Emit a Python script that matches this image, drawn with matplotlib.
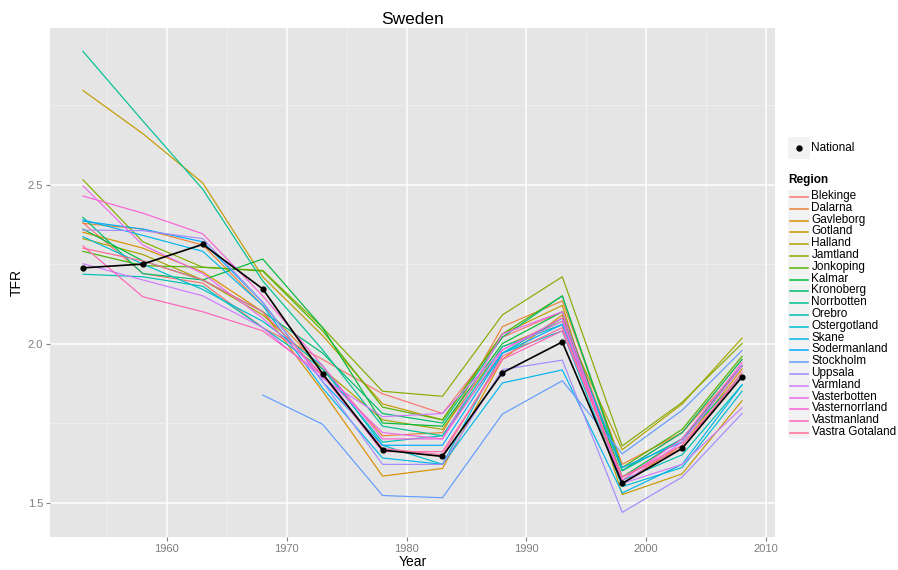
import numpy as np
import matplotlib
matplotlib.use("Agg")
import matplotlib.pyplot as plt
from matplotlib.lines import Line2D
from matplotlib.patches import Rectangle

plt.rcParams['font.family'] = ['Liberation Sans', 'DejaVu Sans']

years = [1953, 1958, 1963, 1968, 1973, 1978, 1983, 1988, 1993, 1998, 2003, 2008]
national = [2.238, 2.250, 2.312, 2.172, 1.905, 1.665, 1.645, 1.908, 2.005, 1.560, 1.670, 1.895]

regions = ["Blekinge", "Dalarna", "Gavleborg", "Gotland", "Halland", "Jamtland",
           "Jonkoping", "Kalmar", "Kronoberg", "Norrbotten", "Orebro", "Ostergotland",
           "Skane", "Sodermanland", "Stockholm", "Uppsala", "Varmland", "Vasterbotten",
           "Vasternorrland", "Vastmanland", "Vastra Gotaland"]

nan = float('nan')
blekinge = [2.380, 2.220, 2.190, 2.050, 1.950, 1.842, 1.780, 2.020, 2.100, 1.600, 1.720, 1.930]
dalarna = [2.378, 2.360, 2.310, 2.120, 1.920, 1.710, 1.720, 2.053, 2.134, 1.620, 1.720, 1.950]
gavleborg = [2.350, 2.300, 2.225, 2.100, 1.850, 1.583, 1.607, 1.950, 2.090, 1.560, 1.680, 1.920]
gotland = [2.796, 2.660, 2.505, 2.210, 2.025, 1.810, 1.760, 2.030, 2.120, 1.525, 1.590, 1.820]
halland = [2.330, 2.280, 2.200, 2.090, 1.920, 1.760, 1.730, 1.990, 2.070, 1.666, 1.810, 2.017]
jamtland = [2.515, 2.320, 2.240, 2.230, 2.050, 1.850, 1.834, 2.090, 2.210, 1.678, 1.815, 2.000]
jonkoping = [2.290, 2.245, 2.240, 2.228, 2.040, 1.800, 1.760, 2.030, 2.150, 1.610, 1.730, 1.960]
kalmar = [2.360, 2.260, 2.200, 2.266, 2.050, 1.750, 1.740, 2.000, 2.100, 1.580, 1.700, 1.930]
kronoberg = [2.397, 2.220, 2.200, 2.100, 1.970, 1.780, 1.750, 2.020, 2.150, 1.600, 1.720, 1.950]
norrbotten = [2.919, 2.700, 2.485, 2.197, 1.980, 1.740, 1.710, 1.970, 2.080, 1.600, 1.700, 1.900]
orebro = [2.218, 2.210, 2.180, 2.050, 1.920, 1.690, 1.710, 1.990, 2.060, 1.570, 1.650, 1.870]
ostergotland = [2.336, 2.250, 2.170, 2.070, 1.930, 1.680, 1.620, 1.970, 2.040, 1.550, 1.610, 1.850]
skane = [2.389, 2.340, 2.290, 2.120, 1.860, 1.640, 1.620, 1.876, 1.917, 1.530, 1.620, 1.870]
sodermanland = [2.385, 2.360, 2.320, 2.130, 1.880, 1.680, 1.680, 1.970, 2.060, 1.610, 1.690, 1.930]
stockholm = [nan, nan, nan, 1.838, 1.746, 1.522, 1.515, 1.778, 1.883, 1.653, 1.790, 1.978]
uppsala = [2.357, 2.355, 2.330, 2.130, 1.880, 1.620, 1.620, 1.918, 1.948, 1.469, 1.580, 1.780]
varmland = [2.251, 2.200, 2.150, 2.050, 1.890, 1.770, 1.780, 1.980, 2.070, 1.560, 1.620, 1.798]
vasterbotten = [2.496, 2.310, 2.220, 2.080, 1.900, 1.720, 1.700, 2.030, 2.100, 1.560, 1.690, 1.930]
vasternorrland = [2.464, 2.410, 2.345, 2.150, 1.930, 1.700, 1.700, 1.980, 2.080, 1.570, 1.700, 1.940]
vastmanland = [2.307, 2.147, 2.100, 2.040, 1.900, 1.660, 1.660, 1.950, 2.040, 1.580, 1.680, 1.900]
vastra_gotaland = [2.300, 2.260, 2.200, 2.100, 1.900, 1.670, 1.650, 1.960, 2.050, 1.580, 1.670, 1.910]

series = [blekinge, dalarna, gavleborg, gotland, halland, jamtland, jonkoping, kalmar,
          kronoberg, norrbotten, orebro, ostergotland, skane, sodermanland, stockholm,
          uppsala, varmland, vasterbotten, vasternorrland, vastmanland, vastra_gotaland]


def hcl_hex(h, c=100.0, l=65.0):
    xn, yn, zn = 95.047, 100.0, 108.883
    den = xn + 15 * yn + 3 * zn
    un, vn = 4 * xn / den, 9 * yn / den
    hr = np.deg2rad(h)
    U, V = c * np.cos(hr), c * np.sin(hr)
    L = l
    Y = yn * ((L + 16) / 116) ** 3 if L > 8 else yn * L / 903.3
    u = U / (13 * L) + un
    v = V / (13 * L) + vn
    X = 9.0 * Y * u / (4 * v)
    Z = -X / 3 - 5 * Y + 3 * Y / v
    X, Y, Z = X / 100, Y / 100, Z / 100
    r = 3.240479 * X - 1.537150 * Y - 0.498535 * Z
    g = -0.969256 * X + 1.875992 * Y + 0.041556 * Z
    b = 0.055648 * X - 0.204043 * Y + 1.057311 * Z

    def gam(t):
        t = 1.055 * t ** (1 / 2.4) - 0.055 if t > 0.00304 else 12.92 * t
        return min(max(t, 0.0), 1.0)
    return (gam(r), gam(g), gam(b))


hues = np.linspace(15, 375, len(regions) + 1)[:-1]
colors = [hcl_hex(h) for h in hues]

W, H = 898, 570
fig = plt.figure(figsize=(W / 100, H / 100), dpi=100)
fig.patch.set_facecolor('white')
left, right, top, bottom = 50, 775, 28, 537
ax = fig.add_axes([left / W, 1 - bottom / H, (right - left) / W, (bottom - top) / H])
ax.set_facecolor('#E5E5E5')
for s in ax.spines.values():
    s.set_visible(False)

ax.set_xlim(1950.25, 2010.75)
ax.set_ylim(1.3915, 2.9925)
ax.set_xticks([1960, 1970, 1980, 1990, 2000, 2010])
ax.set_xticks([1955, 1965, 1975, 1985, 1995, 2005], minor=True)
ax.set_yticks([1.5, 2.0, 2.5])
ax.set_yticklabels(['1.5', '2.0', '2.5'])
ax.set_yticks([1.75, 2.25, 2.75], minor=True)
ax.grid(which='major', color='white', linewidth=1.1)
ax.grid(which='minor', color='#F2F2F2', linewidth=0.5)
ax.set_axisbelow(True)
ax.tick_params(which='major', length=3, width=0.8, color='#7F7F7F', labelcolor='#7F7F7F',
               labelsize=8, pad=2)
ax.tick_params(which='minor', length=0)

for vals, col in zip(series, colors):
    ax.plot(years, vals, color=col, linewidth=0.85, solid_joinstyle='round')
ax.plot(years, national, color='black', linewidth=1.2, zorder=5)
ax.scatter(years, national, color='black', s=12, zorder=6)

ax.set_title('Sweden', fontsize=12.5, pad=3)
ax.set_xlabel('Year', fontsize=10, labelpad=1)
ax.set_ylabel('TFR', fontsize=10, labelpad=3)


def fx(px):
    return px / W


def fy(py):
    return 1 - py / H


# Legend: National
kx0, kx1 = 788, 810
fig.add_artist(Rectangle((fx(kx0), fy(159)), fx(kx1 - kx0), 22 / H,
                         transform=fig.transFigure, facecolor='#F2F2F2', edgecolor='none',
                         zorder=1))
fig.add_artist(Line2D([fx(799)], [fy(148)], marker='o', markersize=3.6, color='black',
                      transform=fig.transFigure, linestyle='none', zorder=4))
fig.text(fx(811.5), fy(148), 'National', fontsize=8.5, va='center', ha='left')

fig.text(fx(788), fy(180), 'Region', fontsize=8.5, fontweight='bold', va='center', ha='left')
y0, dy = 196.0, 11.8
for i, (name, col) in enumerate(zip(regions, colors)):
    yc = y0 + i * dy
    fig.add_artist(Rectangle((fx(kx0), fy(yc + dy / 2)), fx(kx1 - kx0), dy / H,
                             transform=fig.transFigure, facecolor='#F2F2F2',
                             edgecolor='none', zorder=1))
    yl = round(yc) + 0.5
    fig.add_artist(Line2D([fx(790), fx(808)], [fy(yl), fy(yl)], color=col, linewidth=1.1,
                          transform=fig.transFigure, zorder=4))
    fig.text(fx(811.5), fy(yc), name, fontsize=8.5, va='center', ha='left')

fig.savefig('out.png', dpi=100)
